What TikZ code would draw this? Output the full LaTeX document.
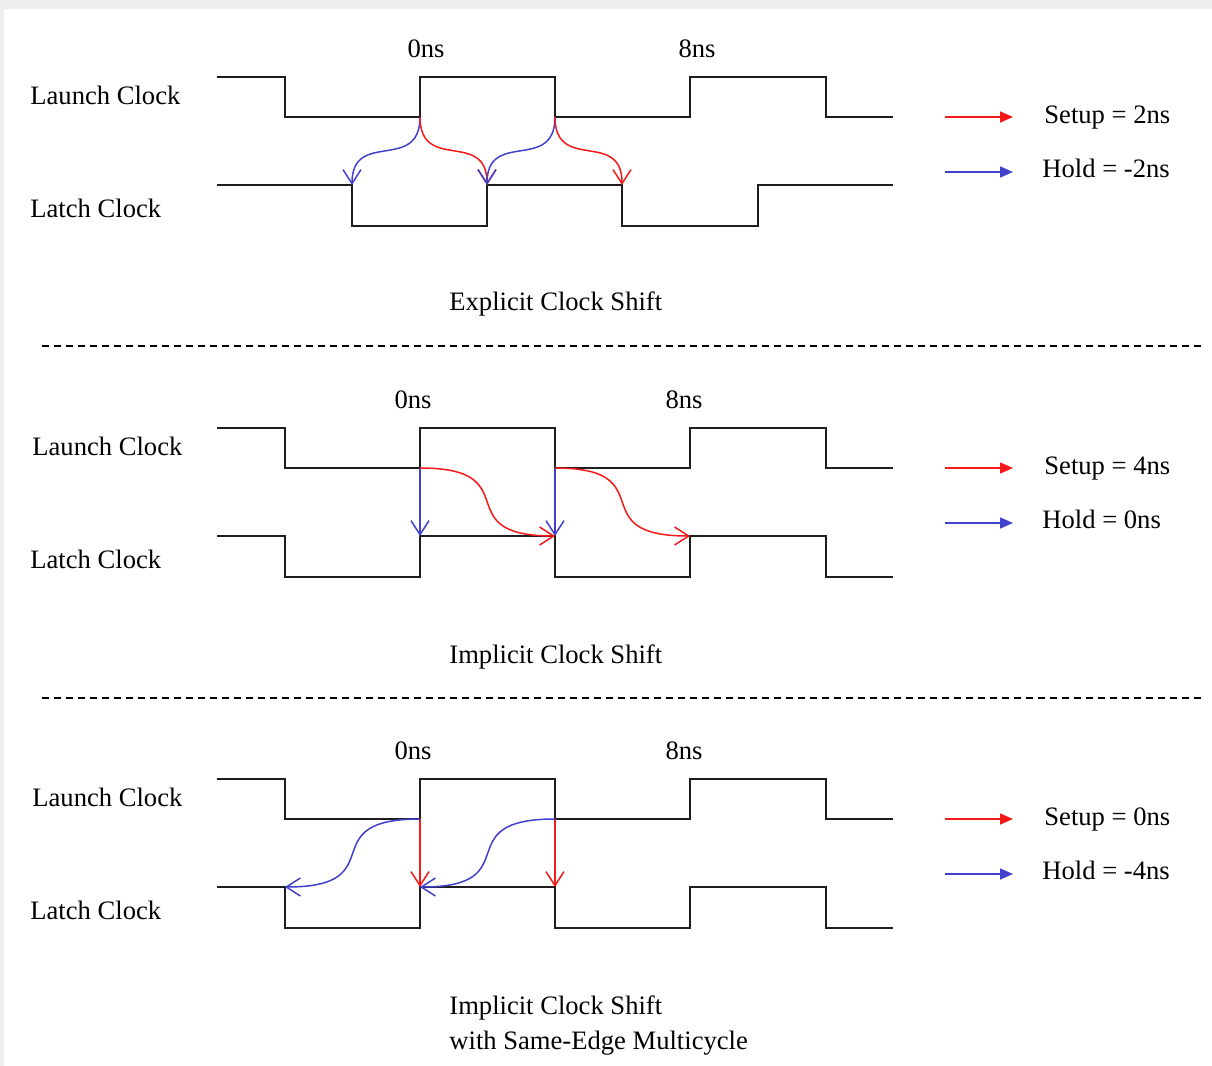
\documentclass[tikz,border=0pt]{standalone}
\usepackage{fontspec}
\setmainfont{Liberation Serif}
\usetikzlibrary{arrows.meta}
\definecolor{setupred}{RGB}{245,25,25}
\definecolor{holdblue}{RGB}{65,65,205}
\definecolor{wave}{RGB}{30,30,30}
\definecolor{frame}{RGB}{238,238,238}
\begin{document}
\begin{tikzpicture}[x=0.5pt,y=-0.5pt,
  txt/.style={font=\fontsize{13.3pt}{17.5pt}\selectfont, inner sep=0pt, anchor=base west},
  ctxt/.style={txt, anchor=base},
  clk/.style={draw=wave, line width=1pt, line join=miter},
  setuparr/.style={draw=setupred, line width=0.75pt, -{Straight Barb[length=7pt,width=9pt]}},
  holdarr/.style={draw=holdblue, line width=0.75pt, -{Straight Barb[length=7pt,width=9pt]}},
  keyred/.style={draw=setupred, line width=0.8pt, -{Triangle[length=6.5pt,width=5.5pt]}},
  keyblue/.style={draw=holdblue, line width=0.8pt, -{Triangle[length=6.5pt,width=5.5pt]}},
  sep/.style={draw=black, line width=0.8pt, dash pattern=on 3.5pt off 2.5pt}
]
% page and its thin grey frame
\fill[frame] (0,0) rectangle (1212,1066);
\fill[white] (4,9) rectangle (1212,1066);
\useasboundingbox (0,0) rectangle (1212,1066);

% ---------------- Explicit clock shift ----------------
\begin{scope}
  \node[ctxt] (p1zero) at (426,57) {0ns};
  \node[ctxt] (p1eight) at (697,57) {8ns};
  \node[txt] (p1launch) at (30,104) {Launch Clock};
  \node[txt] (p1latch) at (30,217) {Latch Clock};
  \draw[clk] (217,77) -- (285,77) -- (285,117) -- (420,117) -- (420,77) -- (555,77)
     -- (555,117) -- (690,117) -- (690,77) -- (826,77) -- (826,117) -- (893,117);
  \draw[clk] (217,185) -- (352,185) -- (352,226) -- (487,226) -- (487,185) -- (622,185)
     -- (622,226) -- (758,226) -- (758,185) -- (893,185);
  \coordinate (p1a) at (420,117);
  \coordinate (p1b) at (555,117);
  \coordinate (p1t0) at (352,185);
  \coordinate (p1t1) at (487,185);
  \coordinate (p1t2) at (622,185);
  % S-curves leaving and entering vertically
  \draw[holdarr] (p1a) .. controls +(0,56) and +(0,-56) .. (p1t0);
  \draw[setuparr] (p1a) .. controls +(0,56) and +(0,-56) .. (p1t1);
  \draw[holdarr] (p1b) .. controls +(0,56) and +(0,-56) .. (p1t1);
  \draw[setuparr] (p1b) .. controls +(0,56) and +(0,-56) .. (p1t2);
  \coordinate (p1rs) at (945,117);
  \coordinate (p1re) at (1013,117);
  \coordinate (p1bs) at (945,172);
  \coordinate (p1be) at (1013,172);
  \draw[keyred] (p1rs) -- (p1re);
  \draw[keyblue] (p1bs) -- (p1be);
  \node[txt] (p1setup) at (1044,123) {Setup = 2ns};
  \node[txt] (p1hold) at (1042,177) {Hold = -2ns};
  \node[txt] (p1title) at (449,310) {Explicit Clock Shift};
  \coordinate (p1l) at (42,346);
  \coordinate (p1r) at (1203,346);
  \draw[sep] (p1l) -- (p1r);
\end{scope}

% ---------------- Implicit clock shift ----------------
\begin{scope}[shift={(0,351)}]
  \node[ctxt] (p2zero) at (413,57) {0ns};
  \node[ctxt] (p2eight) at (684,57) {8ns};
  \node[txt] (p2launch) at (32,104) {Launch Clock};
  \node[txt] (p2latch) at (30,217) {Latch Clock};
  \draw[clk] (217,77) -- (285,77) -- (285,117) -- (420,117) -- (420,77) -- (555,77)
     -- (555,117) -- (690,117) -- (690,77) -- (826,77) -- (826,117) -- (893,117);
  \draw[clk] (217,185) -- (285,185) -- (285,226) -- (420,226) -- (420,185) -- (555,185)
     -- (555,226) -- (690,226) -- (690,185) -- (826,185) -- (826,226) -- (893,226);
  \coordinate (p2a) at (420,117);
  \coordinate (p2b) at (555,117);
  \coordinate (p2t0) at (420,185);
  \coordinate (p2t1) at (555,185);
  \coordinate (p2t2) at (690,185);
  \draw[holdarr] (p2a) -- (p2t0);
  \draw[holdarr] (p2b) -- (p2t1);
  % S-curves leaving and entering horizontally
  \draw[setuparr] (p2a) .. controls +(110,0) and +(-110,0) .. (p2t1);
  \draw[setuparr] (p2b) .. controls +(110,0) and +(-110,0) .. (p2t2);
  \coordinate (p2rs) at (945,117);
  \coordinate (p2re) at (1013,117);
  \coordinate (p2bs) at (945,172);
  \coordinate (p2be) at (1013,172);
  \draw[keyred] (p2rs) -- (p2re);
  \draw[keyblue] (p2bs) -- (p2be);
  \node[txt] (p2setup) at (1044,123) {Setup = 4ns};
  \node[txt] (p2hold) at (1042,177) {Hold = 0ns};
  \node[txt] (p2title) at (449,312) {Implicit Clock Shift};
  \coordinate (p2l) at (42,347);
  \coordinate (p2r) at (1203,347);
  \draw[sep] (p2l) -- (p2r);
\end{scope}

% ------- Implicit clock shift with same-edge multicycle -------
\begin{scope}[shift={(0,702)}]
  \node[ctxt] (p3zero) at (413,57) {0ns};
  \node[ctxt] (p3eight) at (684,57) {8ns};
  \node[txt] (p3launch) at (32,104) {Launch Clock};
  \node[txt] (p3latch) at (30,217) {Latch Clock};
  \draw[clk] (217,77) -- (285,77) -- (285,117) -- (420,117) -- (420,77) -- (555,77)
     -- (555,117) -- (690,117) -- (690,77) -- (826,77) -- (826,117) -- (893,117);
  \draw[clk] (217,185) -- (285,185) -- (285,226) -- (420,226) -- (420,185) -- (555,185)
     -- (555,226) -- (690,226) -- (690,185) -- (826,185) -- (826,226) -- (893,226);
  \coordinate (p3a) at (420,117);
  \coordinate (p3b) at (555,117);
  \coordinate (p3t0) at (285,185);
  \coordinate (p3t1) at (420,185);
  \coordinate (p3t2) at (555,185);
  \draw[setuparr] (p3a) -- (p3t1);
  \draw[setuparr] (p3b) -- (p3t2);
  \draw[holdarr] (p3a) .. controls +(-110,0) and +(110,0) .. (p3t0);
  \draw[holdarr] (p3b) .. controls +(-110,0) and +(110,0) .. (p3t1);
  \coordinate (p3rs) at (945,117);
  \coordinate (p3re) at (1013,117);
  \coordinate (p3bs) at (945,172);
  \coordinate (p3be) at (1013,172);
  \draw[keyred] (p3rs) -- (p3re);
  \draw[keyblue] (p3bs) -- (p3be);
  \node[txt] (p3setup) at (1044,123) {Setup = 0ns};
  \node[txt] (p3hold) at (1042,177) {Hold = -4ns};
  \node[txt] (p3title) at (449,312) {Implicit Clock Shift};
  \node[txt] (p3title2) at (449,347) {with Same-Edge Multicycle};
\end{scope}
\end{tikzpicture}
\end{document}
